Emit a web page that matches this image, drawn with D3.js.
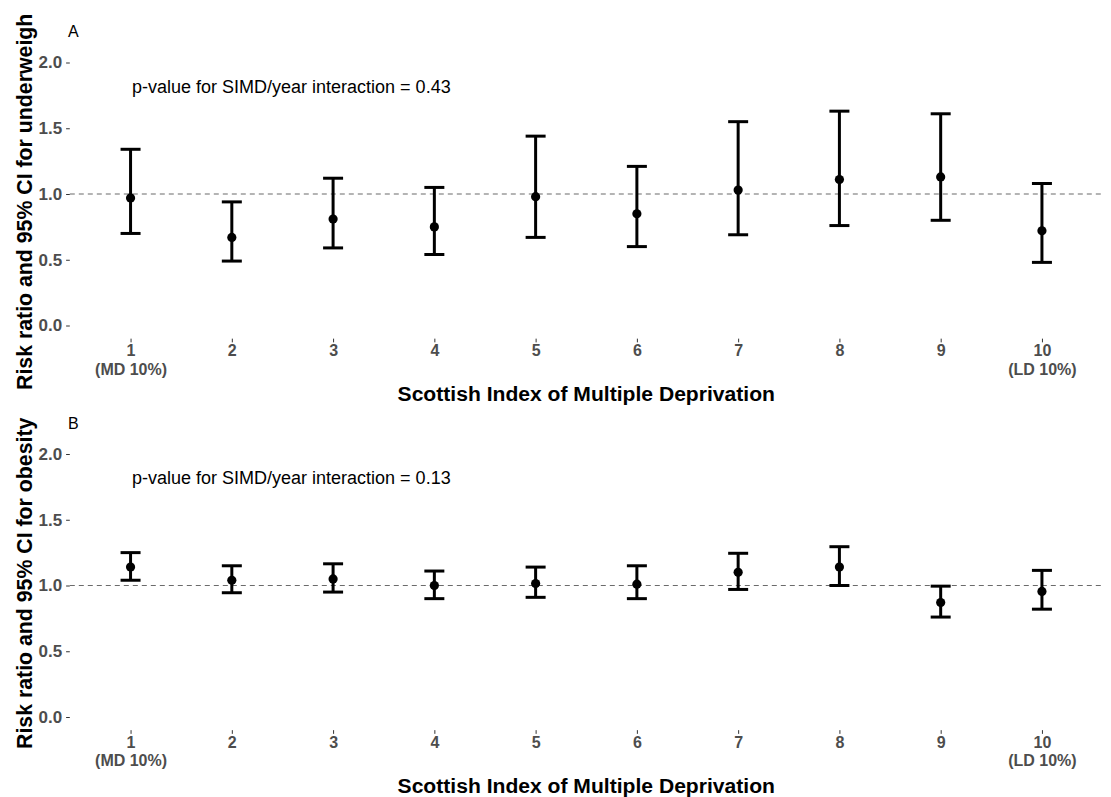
<!DOCTYPE html>
<html>
<head>
<meta charset="utf-8">
<script src="https://cdn.jsdelivr.net/npm/d3@7"></script>
<style>
  html, body { margin: 0; padding: 0; background: #fff; }
  svg { display: block; font-family: "Liberation Sans", Arial, Helvetica, sans-serif; }
</style>
</head>
<body>
<svg id="chart" width="1111" height="797"></svg>
<script>
// ---------------- data ----------------
const categories = ["1", "2", "3", "4", "5", "6", "7", "8", "9", "10"];
const categorySubLabels = ["(MD 10%)", "", "", "", "", "", "", "", "", "(LD 10%)"];
const yTickValues = [0, 0.5, 1, 1.5, 2];

const underweightRR    = [0.97, 0.67, 0.81, 0.75, 0.98, 0.85, 1.03, 1.11, 1.13, 0.72];
const underweightLower = [0.70, 0.49, 0.59, 0.54, 0.67, 0.60, 0.69, 0.76, 0.80, 0.48];
const underweightUpper = [1.34, 0.94, 1.12, 1.05, 1.44, 1.21, 1.55, 1.63, 1.61, 1.08];

const obesityRR    = [1.14, 1.04, 1.05, 1.00, 1.015, 1.01, 1.10, 1.14, 0.87, 0.955];
const obesityLower = [1.04, 0.945, 0.95, 0.90, 0.91, 0.90, 0.97, 1.00, 0.76, 0.82];
const obesityUpper = [1.25, 1.15, 1.165, 1.11, 1.14, 1.15, 1.245, 1.295, 0.995, 1.115];

const panelLetters = ["A", "B"];
const pValueTexts = ["p-value for SIMD/year interaction = 0.43", "p-value for SIMD/year interaction = 0.13"];
const yTitles = ["Risk ratio and 95% CI for underweigh", "Risk ratio and 95% CI for obesity"];
const xTitle = "Scottish Index of Multiple Deprivation";
const referenceLine = 1;

// ---------------- layout ----------------
const svg = d3.select("#chart");
const panelLeft = 69.8, panelRight = 1102.7;
const panelHeight = 289.3;
const panelTops = [49.35, 440.85];
const yTitleBottoms = [390, 749];

const x = d3.scalePoint().domain(categories).range([panelLeft, panelRight]).padding(0.6);

const panels = [
  { rr: underweightRR, lo: underweightLower, hi: underweightUpper },
  { rr: obesityRR, lo: obesityLower, hi: obesityUpper }
];

panels.forEach((p, i) => {
  const top = panelTops[i];
  const bottom = top + panelHeight;
  const y = d3.scaleLinear().domain([-0.1, 2.1]).range([bottom, top]);
  const g = svg.append("g");

  // y axis
  const yAxis = d3.axisLeft(y).tickValues(yTickValues).tickFormat(d3.format(".1f"))
    .tickSize(3.7).tickPadding(4);
  const ya = g.append("g").attr("transform", `translate(${panelLeft},0)`).call(yAxis);
  ya.select(".domain").remove();
  ya.selectAll(".tick line").attr("stroke", "#333333").attr("stroke-width", 1);
  ya.selectAll(".tick text").attr("fill", "#4d4d4d").attr("font-size", 17)
    .attr("font-weight", "bold").attr("font-family", "Liberation Sans, Arial, sans-serif");

  // x axis
  const xAxis = d3.axisBottom(x).tickSize(3.7).tickFormat("");
  const xa = g.append("g").attr("transform", `translate(0,${bottom})`).call(xAxis);
  xa.select(".domain").remove();
  xa.selectAll(".tick line").attr("stroke", "#333333").attr("stroke-width", 1);
  xa.selectAll(".tick").each(function(d) {
    const tick = d3.select(this);
    tick.append("text")
      .attr("fill", "#4d4d4d").attr("font-size", 16).attr("font-weight", "bold")
      .attr("text-anchor", "middle").attr("x", 0).attr("y", 17.5).text(d);
    const sub = categorySubLabels[categories.indexOf(d)];
    if (sub) {
      tick.append("text")
        .attr("fill", "#4d4d4d").attr("font-size", 16).attr("font-weight", "bold")
        .attr("text-anchor", "middle").attr("x", 0).attr("y", 36).text(sub);
    }
  });

  // reference line
  g.append("line")
    .attr("x1", panelLeft).attr("x2", panelRight)
    .attr("y1", y(referenceLine)).attr("y2", y(referenceLine))
    .attr("stroke", "#6b6b6b").attr("stroke-width", 1.1).attr("stroke-dasharray", "5,4");

  // error bars
  const capHalf = 10;
  const bars = g.append("g").selectAll("g").data(categories).join("g");
  bars.append("line")
    .attr("x1", d => x(d)).attr("x2", d => x(d))
    .attr("y1", (d, j) => y(p.lo[j])).attr("y2", (d, j) => y(p.hi[j]))
    .attr("stroke", "#000").attr("stroke-width", 3);
  bars.append("line")
    .attr("x1", d => x(d) - capHalf).attr("x2", d => x(d) + capHalf)
    .attr("y1", (d, j) => y(p.hi[j])).attr("y2", (d, j) => y(p.hi[j]))
    .attr("stroke", "#000").attr("stroke-width", 3);
  bars.append("line")
    .attr("x1", d => x(d) - capHalf).attr("x2", d => x(d) + capHalf)
    .attr("y1", (d, j) => y(p.lo[j])).attr("y2", (d, j) => y(p.lo[j]))
    .attr("stroke", "#000").attr("stroke-width", 3);
  bars.append("circle")
    .attr("cx", d => x(d)).attr("cy", (d, j) => y(p.rr[j])).attr("r", 4.6)
    .attr("fill", "#000");

  // panel letter
  g.append("text").attr("x", 68).attr("y", top - 12)
    .attr("font-size", 16).attr("fill", "#000").text(panelLetters[i]);

  // p-value annotation
  g.append("text").attr("x", 132).attr("y", top + 43.5)
    .attr("font-size", 18).attr("fill", "#000").text(pValueTexts[i]);

  // y title
  g.append("text")
    .attr("transform", `translate(32,${yTitleBottoms[i]}) rotate(-90)`)
    .attr("text-anchor", "start")
    .attr("font-size", 21.3).attr("font-weight", "bold").attr("fill", "#000")
    .text(yTitles[i]);

  // x title
  g.append("text")
    .attr("x", (panelLeft + panelRight) / 2).attr("y", bottom + 62.5)
    .attr("text-anchor", "middle")
    .attr("font-size", 21.1).attr("font-weight", "bold").attr("fill", "#000")
    .text(xTitle);
});
</script>
</body>
</html>
